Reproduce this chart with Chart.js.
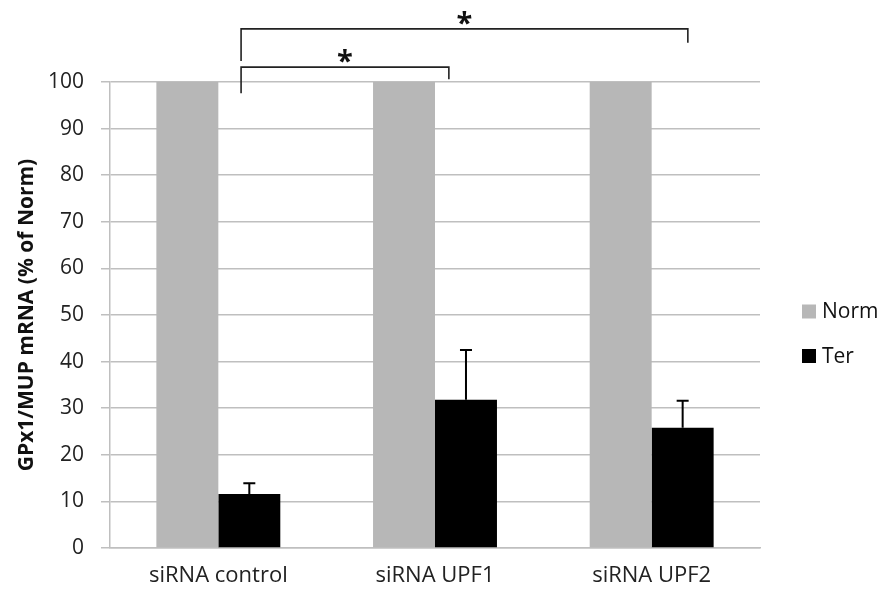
<!DOCTYPE html>
<html>
<head>
<meta charset="utf-8">
<script src="https://cdn.jsdelivr.net/npm/chart.js@4.4.1/dist/chart.umd.min.js"></script>
<style>
html,body{margin:0;padding:0;background:#fff;}
#wrap{width:883px;height:595px;position:relative;}
</style>
</head>
<body>
<div id="wrap"><canvas id="c" width="883" height="595"></canvas></div>
<script>
const categories = ["siRNA control", "siRNA UPF1", "siRNA UPF2"];
const normValues = [100, 100, 100];
const terValues = [11.6, 31.8, 25.8];
const terErrors = [2.3, 10.7, 5.8];
const yTicks = [0, 10, 20, 30, 40, 50, 60, 70, 80, 90, 100];
// significance brackets (x in category index units, y in data units)
const brackets = [
  {from: 0.105, to: 1.064, top: 103.2, leftEnd: 97.6, rightEnd: 100.6, label: "*"},
  {from: 0.105, to: 2.167, top: 111.4, leftEnd: 104.5, rightEnd: 108.4, label: "*"}
];

const FONT = "'Open Sans', Lato, sans-serif";

const extras = {
  id: 'extras',
  afterDatasetsDraw(chart) {
    const ctx = chart.ctx;
    const x = chart.scales.x, y = chart.scales.y;
    const meta = chart.getDatasetMeta(1);
    ctx.save();
    // error bars
    ctx.strokeStyle = '#000';
    ctx.lineWidth = 2;
    meta.data.forEach((bar, i) => {
      const top = y.getPixelForValue(terValues[i] + terErrors[i]);
      const base = y.getPixelForValue(terValues[i]);
      ctx.beginPath();
      ctx.moveTo(bar.x, base);
      ctx.lineTo(bar.x, top);
      ctx.moveTo(bar.x - 6, top);
      ctx.lineTo(bar.x + 6, top);
      ctx.stroke();
    });
    // brackets
    ctx.strokeStyle = '#222';
    ctx.lineWidth = 1.6;
    ctx.fillStyle = '#111';
    ctx.font = "bold 29px " + FONT;
    ctx.textAlign = 'center';
    ctx.textBaseline = 'alphabetic';
    brackets.forEach(b => {
      const x1 = x.getPixelForValue(b.from), x2 = x.getPixelForValue(b.to);
      const yt = y.getPixelForValue(b.top);
      ctx.beginPath();
      ctx.moveTo(x1, y.getPixelForValue(b.leftEnd));
      ctx.lineTo(x1, yt);
      ctx.lineTo(x2, yt);
      ctx.lineTo(x2, y.getPixelForValue(b.rightEnd));
      ctx.stroke();
      ctx.fillText(b.label, (x1 + x2) / 2, yt + 4);
    });
    // legend
    ctx.font = "21px " + FONT;
    ctx.textAlign = 'left';
    ctx.textBaseline = 'middle';
    const legendY = [311.5, 356];
    chart.data.datasets.forEach((ds, i) => {
      const cy = legendY[i];
      ctx.fillStyle = ds.backgroundColor;
      ctx.fillRect(802, cy - 7, 14, 14);
      ctx.fillStyle = '#111';
      ctx.fillText(ds.label, 822, cy + 1);
    });
    ctx.restore();
  }
};

new Chart(document.getElementById('c'), {
  type: 'bar',
  data: {
    labels: categories,
    datasets: [
      {label: 'Norm', data: normValues, backgroundColor: '#b7b7b7', borderWidth: 0},
      {label: 'Ter', data: terValues, backgroundColor: '#000000', borderColor: '#000', borderWidth: 0}
    ]
  },
  options: {
    responsive: false,
    animation: false,
    devicePixelRatio: 1,
    layout: {padding: {top: 82, right: 123, left: 0, bottom: 0}},
    datasets: {bar: {categoryPercentage: 0.572, barPercentage: 1.0}},
    plugins: {
      tooltip: {enabled: false},
      legend: {display: false}
    },
    scales: {
      x: {
        afterFit(scale) { scale.height = 47; },
        grid: {display: false, drawTicks: false},
        border: {display: true, color: '#bfbfbf', width: 1.5},
        ticks: {color: '#222', font: {family: FONT, size: 22}, padding: 15}
      },
      y: {
        min: 0, max: 100,
        afterFit(scale) { scale.width = 110; },
        afterBuildTicks(scale) { scale.ticks = yTicks.map(v => ({value: v})); },
        grid: {color: '#bfbfbf', lineWidth: 1.5, tickLength: 9, drawTicks: true},
        border: {display: true, color: '#bfbfbf', width: 1.5},
        ticks: {color: '#222', font: {family: FONT, size: 21}, padding: 17},
        title: {display: true, text: 'GPx1/MUP mRNA (% of Norm)', color: '#111',
          font: {family: FONT, size: 21, weight: 'bold'}, padding: {top: 14, bottom: 0}}
      }
    }
  },
  plugins: [extras]
});
</script>
</body>
</html>
